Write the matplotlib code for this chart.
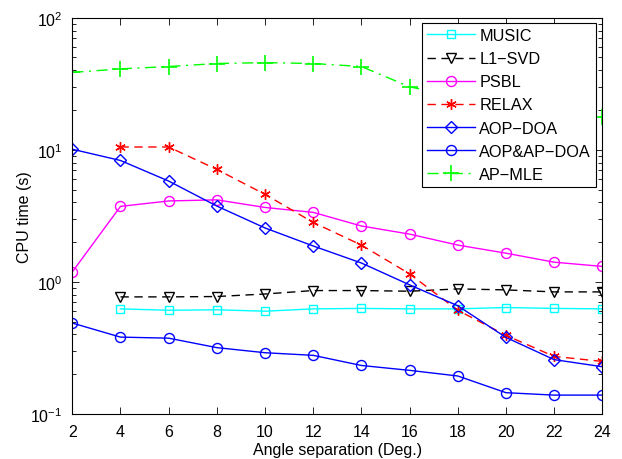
import matplotlib
matplotlib.use("Agg")
import matplotlib.pyplot as plt
import numpy as np

plt.rcParams['font.family'] = ['Liberation Sans', 'DejaVu Sans']
plt.rcParams['mathtext.fontset'] = 'custom'
plt.rcParams['mathtext.rm'] = 'Liberation Sans'
plt.rcParams['mathtext.it'] = 'Liberation Sans:italic'

x_full = [2, 4, 6, 8, 10, 12, 14, 16, 18, 20, 22, 24]
x_from4 = [4, 6, 8, 10, 12, 14, 16, 18, 20, 22, 24]

music = [0.625, 0.61, 0.615, 0.60, 0.625, 0.63, 0.625, 0.625, 0.64, 0.63, 0.625]
l1svd = [0.77, 0.77, 0.775, 0.81, 0.86, 0.86, 0.85, 0.885, 0.87, 0.84, 0.84]
psbl = [1.19, 3.73, 4.1, 4.18, 3.66, 3.36, 2.65, 2.3, 1.9, 1.65, 1.41, 1.31]
relax = [10.5, 10.5, 7.1, 4.6, 2.82, 1.9, 1.15, 0.61, 0.394, 0.273, 0.25]
aopdoa = [10.1, 8.3, 5.8, 3.75, 2.56, 1.87, 1.39, 0.95, 0.66, 0.38, 0.258, 0.228]
aopap = [0.488, 0.382, 0.375, 0.318, 0.291, 0.278, 0.233, 0.214, 0.194, 0.145, 0.139, 0.139]
apmle = [38.5, 41.0, 42.7, 45.0, 45.7, 45.0, 42.7, 30.0, 25.0, 22.0, 20.0, 17.6]

fig = plt.figure(figsize=(6.22, 4.60), dpi=100)
ax = fig.add_axes([72.3/622, 45/460, 530/622, 396.3/460])

lw = 1.0
ax.plot(x_from4, music, color=(0, 1, 1), ls='-', lw=lw, marker='s', ms=5.5,
        mfc='none', mec=(0, 1, 1), mew=1.0, label='MUSIC')
ax.plot(x_from4, l1svd, color='k', ls=(0, (6, 4)), lw=lw, marker='v', ms=7.5,
        mfc='none', mec='k', mew=1.0, label='L1\u2212SVD')
ax.plot(x_full, psbl, color=(1, 0, 1), ls='-', lw=lw, marker='o', ms=7.2,
        mfc='none', mec=(1, 0, 1), mew=1.0, label='PSBL')
ax.plot(x_from4, relax, color='r', ls=(0, (6, 4)), lw=lw, marker=(6, 2, 0), ms=7.5,
        mfc='none', mec='r', mew=1.0, label='RELAX')
ax.plot(x_full, aopdoa, color='b', ls='-', lw=lw, marker='D', ms=6.5,
        mfc='none', mec='b', mew=1.0, label='AOP\u2212DOA')
ax.plot(x_full, aopap, color='b', ls='-', lw=lw, marker='o', ms=7.2,
        mfc='none', mec='b', mew=1.0, label='AOP&AP\u2212DOA')
ax.plot(x_full, apmle, color=(0, 1, 0), ls=(0, (8, 4, 1.5, 4)), lw=lw, marker='+', ms=11,
        mfc='none', mec=(0, 1, 0), mew=1.2, label='AP\u2212MLE')

ax.set_yscale('log')
ax.set_xlim(2, 24)
ax.set_ylim(0.1, 100)
ax.set_xticks(x_full)
ax.tick_params(which='both', direction='in', top=True, right=True, labelsize=11.5)
ax.tick_params(axis='x', which='major', pad=7.5)
ax.tick_params(axis='y', which='major', pad=7)
ax.tick_params(which='major', length=5, width=0.6)
ax.tick_params(which='minor', length=3, width=0.6)
for s in ax.spines.values():
    s.set_linewidth(0.8)

ax.set_xlabel('Angle separation (Deg.)', fontsize=11.5, labelpad=2)
ax.set_ylabel('CPU time (s)', fontsize=11.5, labelpad=-1)

leg = ax.legend(loc='upper right', bbox_to_anchor=(0.988, 0.986), borderaxespad=0,
                fancybox=False, framealpha=1, edgecolor='k', fontsize=11.7,
                handlelength=2.95, handletextpad=0.25, labelspacing=0.5,
                borderpad=0.3)
leg.get_frame().set_linewidth(0.8)

fig.savefig('out.png', dpi=100)
